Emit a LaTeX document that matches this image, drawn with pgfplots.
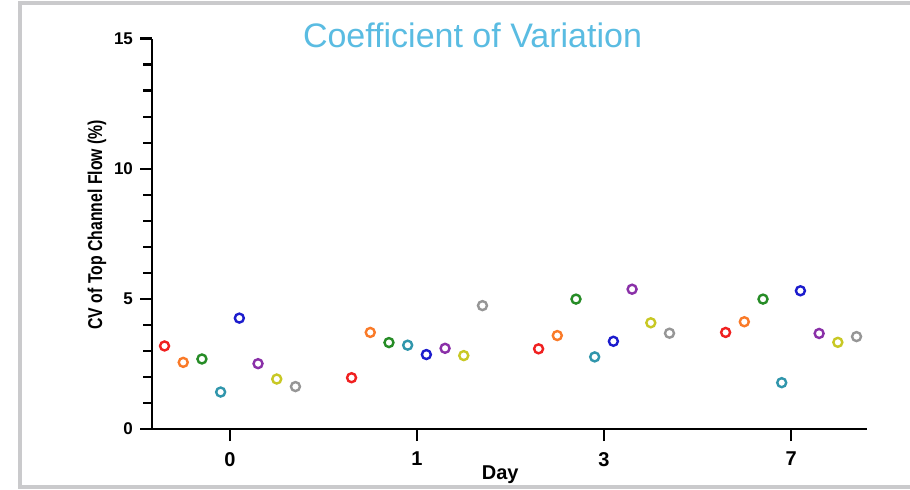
\documentclass[border=0pt]{standalone}
\usepackage{pgfplots}
\pgfplotsset{compat=1.18}
\usepackage{fontspec}
\setmainfont{Liberation Sans}
\definecolor{cRed}{RGB}{240,32,32}
\definecolor{cOrange}{RGB}{250,122,40}
\definecolor{cGreen}{RGB}{38,140,38}
\definecolor{cTeal}{RGB}{48,150,172}
\definecolor{cBlue}{RGB}{28,28,205}
\definecolor{cPurple}{RGB}{138,48,168}
\definecolor{cYellow}{RGB}{200,200,36}
\definecolor{cGray}{RGB}{150,150,150}
\definecolor{cTitle}{RGB}{90,188,226}
\definecolor{cFrame}{RGB}{202,202,204}
\begin{document}
\begin{tikzpicture}
\useasboundingbox (0,0) rectangle (455pt,-244.5pt);
\fill[white] (0,0) rectangle (455pt,-244.5pt);
\draw[line width=2pt, cFrame] (10pt,-1.5pt) rectangle (470pt,-243.5pt);
\begin{axis}[
  at={(76pt,-214.5pt)}, anchor=south west,
  scale only axis, width=357.5pt, height=195.25pt,
  xmin=-0.417, xmax=3.406, ymin=0, ymax=15,
  axis x line*=bottom, axis y line*=left,
  axis line style={line width=1.1pt, black},
  every tick/.style={line width=1.1pt, black},
  tick align=outside,
  major tick length=6pt, minor tick length=4.5pt,
  xtick={0,1,2,3}, xticklabels={0,1,3,7},
  ytick={0,5,10,15}, minor y tick num=4,
  /pgf/number format/assume math mode=true,
  xticklabel style={font=\bfseries\fontsize{10}{12}\selectfont, yshift=-2pt},
  yticklabel style={font=\bfseries\fontsize{8.5}{10}\selectfont},
  xlabel={Day},
  xlabel style={font=\bfseries\fontsize{10}{12}\selectfont, at={(axis description cs:0.487,0)}, anchor=base, yshift=-25pt},
  ylabel={\scalebox{0.79}[1]{CV of Top Channel Flow (\%)}},
  ylabel style={font=\bfseries\fontsize{10}{12}\selectfont, at={(axis description cs:-0.0769,0.523)}, anchor=center},
  clip=false,
  every axis plot/.append style={only marks, mark=o, mark size=2.25pt, line width=1.2pt, mark options={fill=white, solid}},
]
\addplot[cRed] coordinates {(-0.35,3.19) (0.65,1.97) (1.65,3.08) (2.65,3.71)};
\addplot[cOrange] coordinates {(-0.25,2.56) (0.75,3.71) (1.75,3.59) (2.75,4.12)};
\addplot[cGreen] coordinates {(-0.15,2.69) (0.85,3.32) (1.85,4.99) (2.85,4.99)};
\addplot[cTeal] coordinates {(-0.05,1.42) (0.95,3.22) (1.95,2.77) (2.95,1.78)};
\addplot[cBlue] coordinates {(0.05,4.26) (1.05,2.86) (2.05,3.37) (3.05,5.31)};
\addplot[cPurple] coordinates {(0.15,2.51) (1.15,3.10) (2.15,5.37) (3.15,3.67)};
\addplot[cYellow] coordinates {(0.25,1.92) (1.25,2.82) (2.25,4.08) (3.25,3.33)};
\addplot[cGray] coordinates {(0.35,1.63) (1.35,4.74) (2.35,3.68) (3.35,3.55)};
\end{axis}
\node[anchor=base, text=cTitle, font=\fontsize{17}{20}\selectfont] at (236.25pt,-23.5pt) {Coefficient of Variation};
\end{tikzpicture}
\end{document}
